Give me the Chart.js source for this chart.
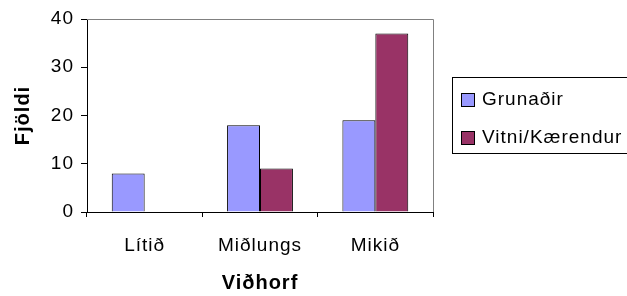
<!DOCTYPE html>
<html lang="is">
<head>
<meta charset="UTF-8">
<title>Viðhorf</title>
<style>
  html, body { margin: 0; padding: 0; background: #fff; }
  #wrap { width: 627px; height: 296px; }
</style>
</head>
<body>
<div id="wrap"><canvas id="chart" width="627" height="296"></canvas></div>
<script src="https://cdn.jsdelivr.net/npm/chart.js"></script>
<script>
const flokkar = ['Lítið', 'Miðlungs', 'Mikið'];
const grunadir = [8, 18, 19];
const vitni = [0, 9, 37];
const nofn = ['Grunaðir', 'Vitni/Kærendur'];
const litir = ['#9999FF', '#993366'];

const letri = 'Liberation Sans, Arial, sans-serif';

// rammi um plot-svæðið og skýringarkassi (Excel-stíll)
const ramma = {
  id: 'ramma',
  beforeLayout(chart) { chart.ctx.letterSpacing = '1px'; },
  beforeDraw(chart) { chart.ctx.letterSpacing = '1px'; },
  afterDraw(chart) {
    const c = chart.ctx, a = chart.chartArea;
    c.save();
    c.strokeStyle = '#808080';
    c.lineWidth = 1;
    c.beginPath();
    c.moveTo(a.left, a.top + 0.5);
    c.lineTo(a.right + 0.5, a.top + 0.5);
    c.lineTo(a.right + 0.5, a.bottom);
    c.stroke();

    // skýring
    c.strokeStyle = '#000';
    c.strokeRect(452.5, 77.5, 180, 76);
    c.font = '19px ' + letri;
    c.textBaseline = 'middle';
    c.fillStyle = '#000';
    const rodir = [99, 137];
    chart.data.datasets.forEach((ds, i) => {
      c.fillStyle = ds.backgroundColor;
      c.fillRect(461, rodir[i] - 6, 13, 13);
      c.strokeRect(461.5, rodir[i] - 5.5, 13, 13);
      c.fillStyle = '#000';
      c.fillText(ds.label, 482, rodir[i] + 1);
    });
    c.restore();
  }
};

new Chart(document.getElementById('chart'), {
  type: 'bar',
  data: {
    labels: flokkar,
    datasets: [
      { label: nofn[0], data: grunadir, backgroundColor: litir[0], borderColor: '#000', borderWidth: 1 },
      { label: nofn[1], data: vitni, backgroundColor: litir[1], borderColor: '#000', borderWidth: 1 }
    ]
  },
  options: {
    responsive: false,
    animation: false,
    layout: { padding: { left: 0, top: 19, right: 194, bottom: 0 } },
    datasets: { bar: { categoryPercentage: 0.571, barPercentage: 1 } },
    plugins: { legend: { display: false }, tooltip: { enabled: false } },
    scales: {
      x: {
        afterFit(s) { s.height = 84; },
        grid: { offset: true, drawOnChartArea: false, color: '#000', tickLength: 5 },
        border: { color: '#000' },
        ticks: { color: '#000', padding: 17, font: { family: letri, size: 19 } },
        title: { display: true, text: 'Viðhorf', color: '#000', padding: { top: 0, bottom: 1 },
                 font: { family: letri, size: 20, weight: 'bold' } }
      },
      y: {
        min: 0, max: 40,
        afterFit(s) { s.width = 87; },
        grid: { drawOnChartArea: false, color: '#000', tickLength: 6 },
        border: { color: '#000' },
        ticks: { stepSize: 10, color: '#000', padding: 7, font: { family: letri, size: 19 } },
        title: { display: true, text: 'Fjöldi', color: '#000', padding: { top: 11, bottom: 0 },
                 font: { family: letri, size: 20, weight: 'bold' } }
      }
    }
  },
  plugins: [ramma]
});
</script>
</body>
</html>
